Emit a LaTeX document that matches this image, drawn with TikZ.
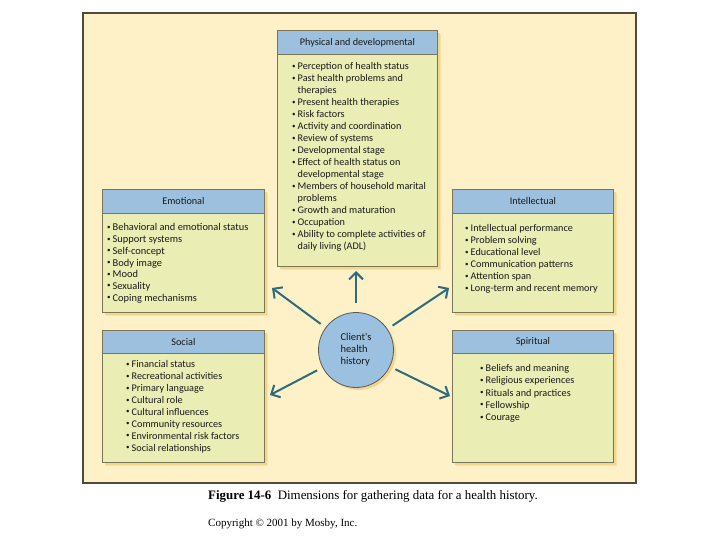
\documentclass[tikz,border=0pt]{standalone}
\usepackage{fontspec}
\setmainfont{Liberation Serif}
\newfontfamily\boxfont{Carlito}
\usetikzlibrary{arrows.meta,shadows}
\definecolor{cream}{HTML}{FFF1C7}
\definecolor{boxfill}{HTML}{EAEEB4}
\definecolor{headblue}{HTML}{9CC0DD}
\definecolor{circblue}{HTML}{9CC0DF}
\definecolor{shadowc}{HTML}{F2D68F}
\definecolor{framec}{HTML}{4F4A3C}
\definecolor{arrowc}{HTML}{2D6C7B}
\definecolor{boxline}{HTML}{7D7558}
\newcommand\bi{\makebox[5.5pt][l]{\raisebox{0.3ex}{\fontsize{7}{7}\selectfont •}}}
\newcommand\ci{\hspace*{5.5pt}}
\tikzset{
  softshadow/.style={drop shadow={shadow xshift=4pt,shadow yshift=-4pt,fill=shadowc!55!cream,opacity=1},
                     drop shadow={shadow xshift=2.5pt,shadow yshift=-2.5pt,fill=shadowc,opacity=1}},
  panel/.style={draw=boxline, line width=0.8pt, fill=boxfill, inner sep=0pt, anchor=north west, softshadow},
  header/.style={draw=boxline, line width=0.8pt, fill=headblue, inner sep=0pt, anchor=north west,
                 font=\boxfont\fontsize{10.2}{12}\selectfont, text=black!90},
  items/.style={anchor=north west, inner sep=0pt, align=left, text=black!90},
  arr/.style={draw=arrowc, line width=2pt, -{Straight Barb[length=7pt,width=14pt,line width=2pt]}, shorten <=6pt}
}
\begin{document}
\begin{tikzpicture}[x=1pt,y=-1pt]
\useasboundingbox (0,0) rectangle (720,540);
\fill[white] (0,0) rectangle (720,540);
% frame
\draw[framec, line width=1.3pt, fill=cream] (83,13) rectangle (636,483);

% Physical and developmental
\node[panel, minimum width=160pt, minimum height=236pt] (phys) at (277,30) {};
\node[header, minimum width=160pt, minimum height=24pt] (physh) at (277,30) {Physical and developmental};
\node[items, font=\boxfont\fontsize{10.2}{12}\selectfont] (physt) at (292,62.5) {%
\bi Perception of health status\\
\bi Past health problems and\\
\ci therapies\\
\bi Present health therapies\\
\bi Risk factors\\
\bi Activity and coordination\\
\bi Review of systems\\
\bi Developmental stage\\
\bi Effect of health status on\\
\ci developmental stage\\
\bi Members of household marital\\
\ci problems\\
\bi Growth and maturation\\
\bi Occupation\\
\bi Ability to complete activities of\\
\ci daily living (ADL)};

% Emotional
\node[panel, minimum width=162pt, minimum height=123pt] (emo) at (102,189) {};
\node[header, minimum width=162pt, minimum height=24pt] (emoh) at (102,189) {Emotional};
\node[items, font=\boxfont\fontsize{10.4}{11.7}\selectfont] (emot) at (107,223.5) {%
\bi Behavioral and emotional status\\
\bi Support systems\\
\bi Self-concept\\
\bi Body image\\
\bi Mood\\
\bi Sexuality\\
\bi Coping mechanisms};

% Intellectual
\node[panel, minimum width=161pt, minimum height=123pt] (intel) at (452,189) {};
\node[header, minimum width=161pt, minimum height=24pt] (intelh) at (452,189) {Intellectual};
\node[items, font=\boxfont\fontsize{10.2}{12}\selectfont] (intelt) at (465,224.5) {%
\bi Intellectual performance\\
\bi Problem solving\\
\bi Educational level\\
\bi Communication patterns\\
\bi Attention span\\
\bi Long-term and recent memory};

% Social
\node[panel, minimum width=162pt, minimum height=132pt] (soc) at (102,330) {};
\node[header, minimum width=162pt, minimum height=23pt] (soch) at (102,330) {Social};
\node[items, font=\boxfont\fontsize{10.2}{11.9}\selectfont] (soct) at (126,360.5) {%
\bi Financial status\\
\bi Recreational activities\\
\bi Primary language\\
\bi Cultural role\\
\bi Cultural influences\\
\bi Community resources\\
\bi Environmental risk factors\\
\bi Social relationships};

% Spiritual
\node[panel, minimum width=161pt, minimum height=132pt] (spir) at (452,330) {};
\node[header, minimum width=161pt, minimum height=23pt] (spirh) at (452,330) {Spiritual};
\node[items, font=\boxfont\fontsize{10.2}{12.2}\selectfont] (spirt) at (480,364.5) {%
\bi Beliefs and meaning\\
\bi Religious experiences\\
\bi Rituals and practices\\
\bi Fellowship\\
\bi Courage};

% centre circle
\node[circle, draw=black!65, line width=0.8pt, fill=circblue, minimum size=75pt, inner sep=0pt,
      align=left, font=\boxfont\fontsize{10.5}{12}\selectfont, text=black!90,
      drop shadow={shadow xshift=2.5pt,shadow yshift=-2.5pt,fill=shadowc,opacity=1}] (circ) at (356,350)
      {Client's\\health\\history};

% arrow tips
\coordinate (tipU) at (356,271);
\coordinate (tipUL) at (272,288);
\coordinate (tipUR) at (449,288);
\coordinate (tipDL) at (270,395);
\coordinate (tipDR) at (450,396);
\draw[arr, shorten <=9pt] (circ) -- (tipU);
\draw[arr] (circ) -- (tipUL);
\draw[arr] (circ) -- (tipUR);
\draw[arr] (circ) -- (tipDL);
\draw[arr] (circ) -- (tipDR);

% caption
\node[anchor=base west, inner sep=0pt] (cap) at (208,499)
  {\fontsize{12.9}{15}\selectfont\textbf{Figure 14-6}\enspace Dimensions for gathering data for a health history.};
\node[anchor=base west, inner sep=0pt] (copy) at (208,526)
  {\fontsize{11}{13}\selectfont Copyright © 2001 by Mosby, Inc.};
\end{tikzpicture}
\end{document}
